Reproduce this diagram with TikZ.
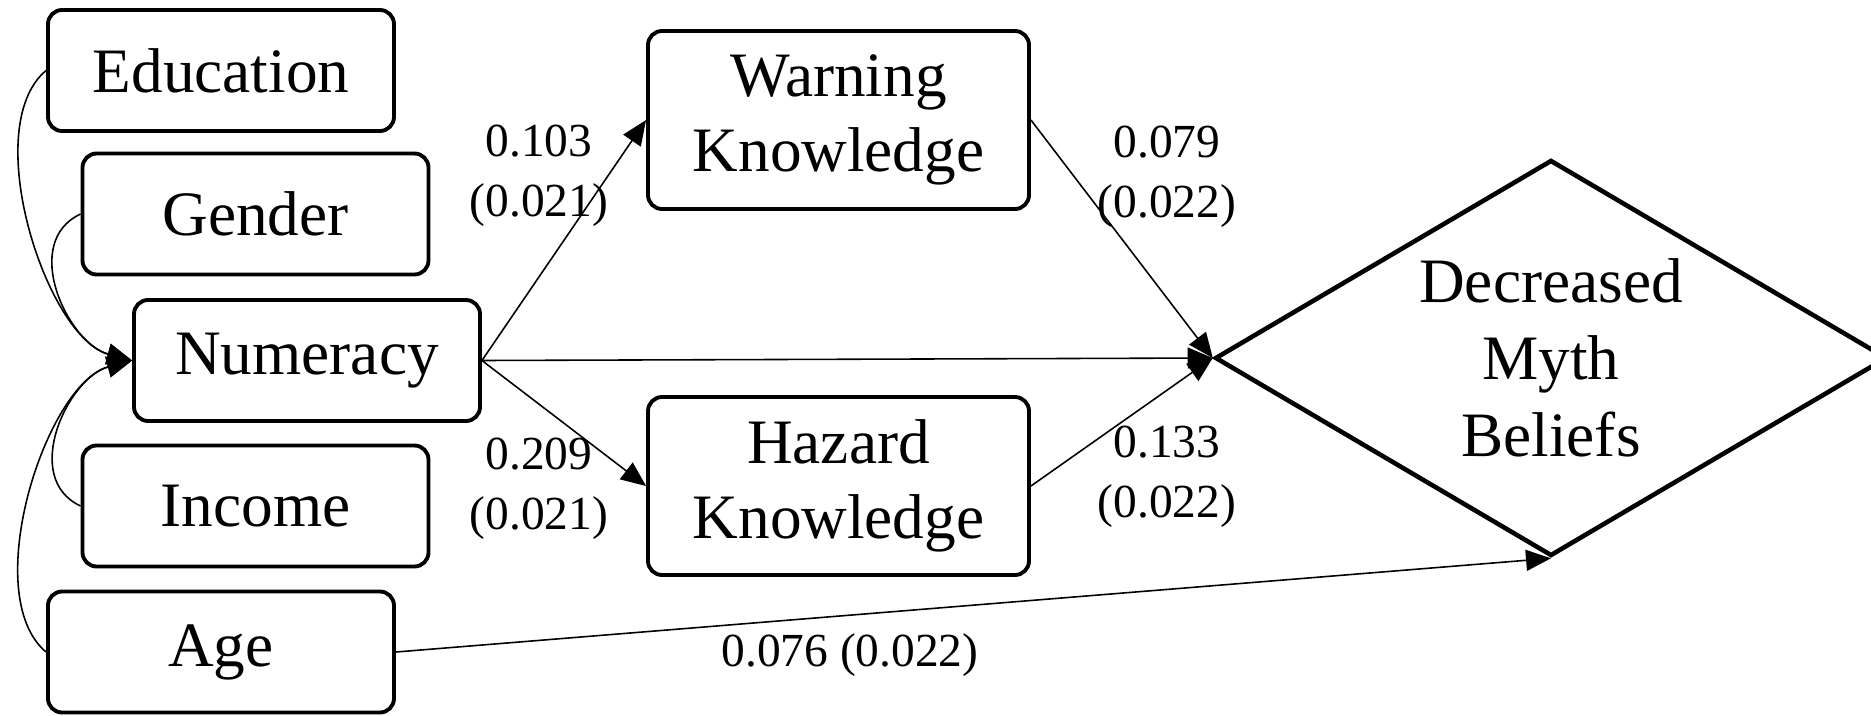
\documentclass[tikz,border=0pt]{standalone}
\usepackage{fontspec}
\setmainfont{Liberation Serif}
\usetikzlibrary{arrows.meta, positioning, shapes.geometric}
\tikzset{
  box/.style={draw, line width=1.1pt, rounded corners=4pt, align=center, inner sep=1pt,
    font=\fontsize{18}{21.5}\selectfont, minimum height=1.21cm, minimum width=3.46cm},
  kbox/.style={box, minimum width=3.81cm, minimum height=1.78cm},
  outc/.style={draw, diamond, aspect=1.7, line width=1.3pt, inner sep=0pt, align=center,
    font=\fontsize{18}{22}\selectfont, minimum width=6.72cm, minimum height=3.96cm},
  est/.style={align=center, font=\fontsize{13.5}{17}\selectfont},
  arr/.style={-{Triangle[length=2.5mm, width=2.1mm]}, line width=0.45pt},
}

\begin{document}
\begin{tikzpicture}
    \useasboundingbox (0,0) rectangle (18.71,7.15);
    % covariates
    \node[box] (edu) at (2.21,6.445) {Education};
    \node[box] (gen) at (2.555,5.01) {Gender};
    \node[box] (num) at (3.07,3.545) {Numeracy};
    \node[box] (inc) at (2.555,2.09) {Income};
    \node[box] (age) at (2.21,0.63) {Age};
    % mediators and outcome
    \node[kbox] (warn) at (8.385,5.95) {Warning\\Knowledge};
    \node[kbox] (haz) at (8.385,2.29) {Hazard\\Knowledge};
    \node[outc] (myth) at (15.51,3.57) {Decreased\\Myth\\Beliefs};
    % covariates into numeracy
    \draw[arr] (edu.west) to[out=220, in=165, looseness=0.75] (num.west);
    \draw[arr] (gen.west) to[out=205, in=165, looseness=1.1] (num.west);
    \draw[arr] (inc.west) to[out=155, in=195, looseness=1.1] (num.west);
    \draw[arr] (age.west) to[out=140, in=195, looseness=0.75] (num.west);
    % paths
    \draw[arr] (num.east) -- (warn.west);
    \draw[arr] (num.east) -- (haz.west);
    \draw[arr] (num.east) -- (myth.west);
    \draw[arr] (warn.east) -- (myth.west);
    \draw[arr] (haz.east) -- (myth.west);
    \draw[arr] (age.east) -- (myth.south);
    % estimates
    \node[est] (lnw) at (5.39,5.395) {0.103\\(0.021)};
    \node[est] (lnh) at (5.39,2.26) {0.209\\(0.021)};
    \node[est] (lwm) at (11.67,5.38) {0.079\\(0.022)};
    \node[est] (lhm) at (11.67,2.385) {0.133\\(0.022)};
    \node[est] (lam) at (8.50,0.60) {0.076 (0.022)};
  \end{tikzpicture}
\end{document}
